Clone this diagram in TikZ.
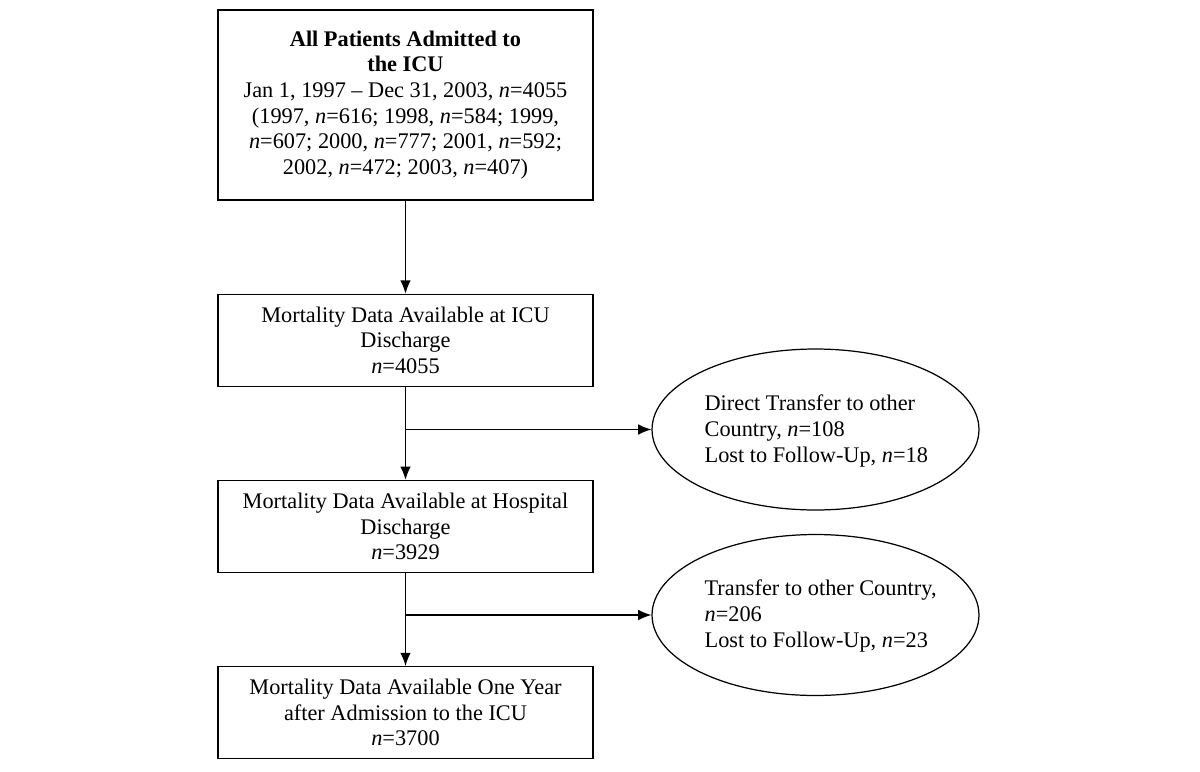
\documentclass[tikz,border=0pt]{standalone}
\usepackage{fontspec}
\setmainfont{Liberation Serif}
\usetikzlibrary{arrows,arrows.meta}
\usetikzlibrary{positioning,shapes}
\def\N#1{\textit{n}=#1}

\begin{document}
\begin{tikzpicture}[%
      x=0.02cm, y=-0.02cm,
      every node/.style={font=\fontsize{12.7}{14.6}\selectfont},
      box/.style={rectangle, draw, line width=0.7pt, minimum width=7.5cm, minimum height=1.84cm, align=center, inner sep=2pt},
      oval/.style={ellipse, draw, line width=0.7pt, minimum width=6.54cm, minimum height=3.22cm},
      node distance=1.86cm, line width=0.7pt,
      >={Latex[length=7.5pt,width=6pt]}
    ]
    \useasboundingbox (0,0) rectangle (1200,771);
    \node [box, minimum height=3.8cm] (all) at (405.5,105) {\textbf{All Patients Admitted to}\\ \textbf{the ICU}\\ Jan 1, 1997 -- Dec 31, 2003, \N{4055}\\ (1997, \N{616}; 1998, \N{584}; 1999,\\ \N{607}; 2000, \N{777}; 2001, \N{592};\\ 2002, \N{472}; 2003, \N{407})};
    \node [box, below=of all] (icu) {Mortality Data Available at ICU\\ Discharge\\ \N{4055}};
    \node [box, below=of icu] (hosp) {Mortality Data Available at Hospital\\ Discharge\\ \N{3929}};
    \node [box, below=of hosp] (year) {Mortality Data Available One Year\\ after Admission to the ICU\\ \N{3700}};
    \node [oval] (lostA) at (815.5,429.5) {};
    \node [oval] (lostB) at (815.5,615) {};
    \node [anchor=west, align=left, inner sep=0pt] (txtA) at (704,431) {Direct Transfer to other\\ Country, \N{108}\\ Lost to Follow-Up, \N{18}};
    \node [anchor=west, align=left, inner sep=0pt] (txtB) at (704,616) {Transfer to other Country,\\ \N{206}\\ Lost to Follow-Up, \N{23}};
    \coordinate (forkA) at (icu.south |- lostA.west);
    \coordinate (forkB) at (hosp.south |- lostB.west);
    \draw [->] (all) -- (icu);
    \draw [->] (icu) -- (hosp);
    \draw [->] (hosp) -- (year);
    \draw [->] (forkA) -- (lostA);
    \draw [->] (forkB) -- (lostB);
  \end{tikzpicture}
\end{document}
